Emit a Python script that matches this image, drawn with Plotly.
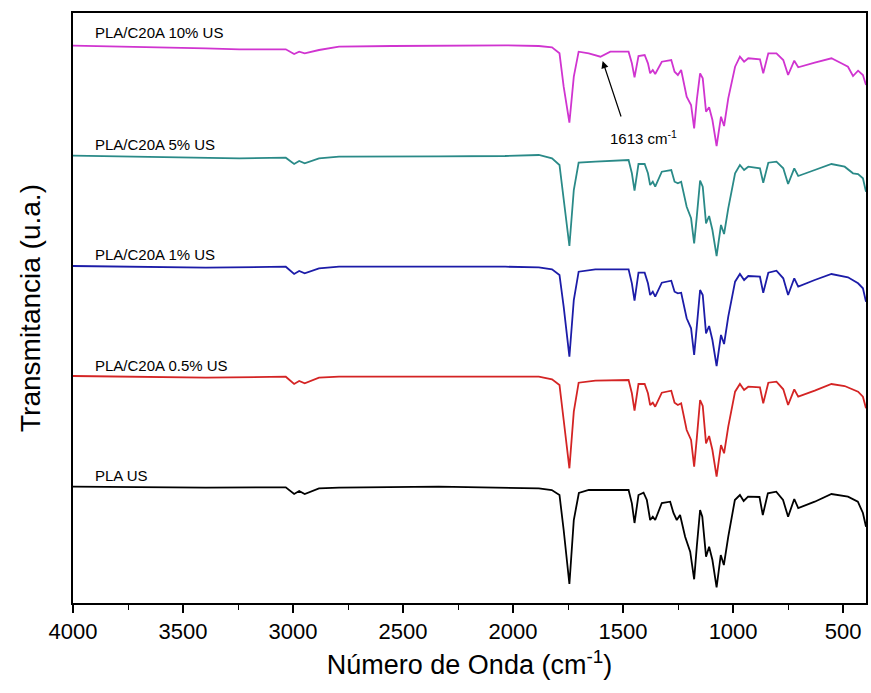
import plotly.graph_objects as go

# ---- data (wavenumber cm^-1, stacked transmittance a.u.) ----
wn_pla = [4000, 3698, 3396, 3033, 2995, 2972, 2947, 2882, 2791, 2338, 2036, 1883, 1824, 1789, 1770, 1744,
          1724, 1701, 1656, 1475, 1460, 1448, 1430, 1407, 1392, 1377, 1365, 1354, 1324, 1286, 1271, 1256,
          1241, 1218, 1195, 1177, 1165, 1150, 1140, 1123, 1109, 1094, 1075, 1056, 1042, 1022, 992, 969,
          952, 932, 880, 865, 842, 804, 773, 750, 722, 704, 629, 553, 478, 433, 410, 396]
t_pla = [116.3, 115.7, 115.3, 115.7, 109, 112, 109, 114.7, 115.3, 116.3, 115.7, 114.7, 113, 108, 73, 19,
         83, 110, 113, 113, 99.7, 80, 108, 110.3, 103, 83, 86.3, 83, 100, 101.3, 90, 83,
         88, 66.3, 51.3, 23.7, 56.3, 93, 86.3, 46.3, 56.3, 43, 15.7, 48, 38, 66.3, 103, 108,
         102, 106.3, 106, 88, 109.7, 111.3, 103, 86.3, 104, 95, 101.3, 109, 106.3, 101.3, 90, 76.3]

wn_05 = [4000, 3698, 3396, 3033, 2995, 2972, 2947, 2882, 2791, 2036, 1883, 1823, 1789, 1770, 1744, 1724,
         1702, 1626, 1475, 1460, 1448, 1430, 1402, 1387, 1377, 1365, 1354, 1324, 1281, 1266, 1251, 1236,
         1211, 1191, 1177, 1165, 1150, 1138, 1123, 1109, 1094, 1075, 1055, 1041, 1022, 991, 969, 950,
         931, 878, 863, 840, 803, 772, 750, 722, 704, 629, 553, 493, 432, 410, 396]
t_05 = [227, 226.3, 225.3, 226.3, 219, 222, 219.7, 225.3, 226.3, 226.3, 226.3, 223.7, 218, 183, 134.7, 191.3,
        220.3, 222.3, 223, 209.7, 192.3, 219, 219, 209.7, 198, 200.3, 196.3, 210.3, 212.3, 200.3, 198, 199.7,
        173, 163, 136.3, 164.7, 203, 197, 159.7, 167, 153, 126.3, 158, 149.7, 176.3, 211.3, 219, 213,
        216.3, 215.7, 199.7, 220.3, 221.3, 213.7, 198, 213.7, 206.3, 212.3, 219, 217, 211.3, 206.3, 194.7]

wn_1 = [4000, 3698, 3396, 3033, 2995, 2972, 2947, 2882, 2791, 2036, 1883, 1823, 1789, 1770, 1744, 1724,
        1702, 1626, 1475, 1460, 1448, 1430, 1402, 1387, 1377, 1365, 1354, 1324, 1281, 1266, 1251, 1236,
        1211, 1191, 1177, 1165, 1150, 1138, 1123, 1109, 1094, 1075, 1055, 1041, 1022, 991, 969, 950,
        931, 878, 863, 840, 803, 772, 750, 722, 704, 629, 553, 478, 432, 410, 396]
t_1 = [337, 336.3, 335.3, 336.3, 329, 332, 329.7, 334.7, 336.3, 336.3, 335.7, 333.7, 328, 296.3, 246.3, 303,
       331.3, 333.7, 333.7, 319.7, 302.3, 330.3, 330.3, 319.7, 308, 311.3, 306.3, 320.3, 322.3, 311.3, 309.7, 310.3,
       284.7, 274.7, 248, 276.3, 313, 308, 269.7, 277, 263, 237, 268, 259, 286.3, 321.3, 329, 323,
       327, 326.3, 310.3, 330.3, 332.3, 324.7, 308, 324.7, 316.3, 323, 329, 325.7, 319.7, 314.7, 301.3]

wn_5 = [4000, 3698, 3396, 3244, 3033, 2995, 2972, 2947, 2882, 2791, 2338, 2036, 1883, 1823, 1789, 1770,
        1744, 1724, 1702, 1626, 1475, 1460, 1448, 1430, 1402, 1387, 1377, 1365, 1354, 1324, 1281, 1266,
        1251, 1236, 1211, 1191, 1177, 1165, 1150, 1138, 1123, 1109, 1094, 1075, 1055, 1041, 1022, 991,
        969, 950, 931, 878, 863, 840, 803, 772, 750, 722, 704, 629, 553, 493, 455, 432, 410, 396]
t_5 = [447.3, 446.3, 444.7, 444.7, 445.3, 439, 442, 439.7, 444.7, 446.3, 446.7, 447, 448, 444.7, 438, 403,
       357, 413, 440.3, 441.3, 443, 429.7, 412.3, 439, 439, 429.7, 418, 421.3, 416.3, 431.3, 433, 421.3,
       419.7, 421.3, 396.3, 384.7, 359.7, 386.3, 422.3, 416.3, 379.7, 387, 373, 347, 378, 369, 394.7, 429.7,
       438, 433, 436.3, 434.7, 420.3, 440.3, 441.3, 434.7, 419, 434.7, 427, 433, 439, 436.3, 429.7, 429, 424.7, 411.3]

wn_10 = [4000, 3698, 3396, 3244, 3033, 2995, 2972, 2947, 2882, 2791, 2549, 2036, 1883, 1823, 1789, 1770,
         1744, 1724, 1702, 1656, 1603, 1558, 1475, 1460, 1448, 1430, 1402, 1387, 1377, 1365, 1354, 1324,
         1281, 1266, 1251, 1236, 1211, 1191, 1177, 1165, 1150, 1138, 1123, 1109, 1094, 1075, 1055, 1041,
         1022, 991, 969, 950, 931, 878, 863, 840, 803, 772, 750, 722, 704, 629, 553, 508, 478, 455, 432, 410, 396]
t_10 = [557.3, 556.3, 554.7, 553.7, 553.7, 549, 551.3, 549.7, 553, 556.3, 557, 557.7, 557, 555.7, 549.7, 516.3,
        480.3, 526.3, 551.3, 549.7, 546.3, 551.3, 551.3, 539.7, 525.7, 547, 548, 539.7, 529.7, 533, 529, 541.3,
        543, 531.3, 528, 533, 506.3, 498, 474.7, 503, 529.7, 524.7, 491.3, 495.7, 483, 457, 486.3, 477,
        504.7, 536.3, 546.3, 541.3, 544.7, 543.7, 529.7, 549.7, 549.7, 543, 528, 542.3, 535.7, 540.3, 544.7, 539.7, 536.3, 527, 532.3, 528, 518]

series_names = ["PLA US", "PLA/C20A 0.5% US", "PLA/C20A 1% US", "PLA/C20A 5% US", "PLA/C20A 10% US"]
series_x = [wn_pla, wn_05, wn_1, wn_5, wn_10]
series_y = [t_pla, t_05, t_1, t_5, t_10]
series_colors = ["#000000", "#D42424", "#1C1CA8", "#2A8A88", "#D034D0"]

label_x = [3909, 3909, 3909, 3909, 3909]
label_y = [128, 238, 349, 459, 571]

xticks = [4000, 3500, 3000, 2500, 2000, 1500, 1000, 500]

FONT = "Liberation Sans, Arial, sans-serif"

fig = go.Figure()
for xs, ys, c, n in zip(series_x, series_y, series_colors, series_names):
    fig.add_trace(go.Scatter(x=xs, y=ys, mode="lines", name=n,
                             line=dict(color=c, width=1.8),
                             showlegend=False, hoverinfo="skip"))

for n, lx, ly in zip(series_names, label_x, label_y):
    fig.add_annotation(x=lx, y=ly, xref="x", yref="y", text=n, showarrow=False,
                       xanchor="left", yanchor="middle",
                       font=dict(family=FONT, size=15, color="black"))

# arrow pointing at the 1613 cm-1 feature
fig.add_annotation(x=1593, y=542, xref="x", yref="y", ax=1507, ay=485, axref="x", ayref="y",
                   text="", showarrow=True, arrowhead=2, arrowsize=1.2, arrowwidth=1.2,
                   arrowcolor="black")
fig.add_annotation(x=1407, y=466, xref="x", yref="y", text="1613 cm<sup>-1</sup>",
                   showarrow=False, font=dict(family=FONT, size=15, color="black"))

fig.update_layout(
    width=871, height=693,
    margin=dict(l=73, r=3, t=13, b=90),
    paper_bgcolor="white", plot_bgcolor="white",
    font=dict(family=FONT, color="black"),
    xaxis=dict(range=[4000, 396], tickvals=xticks, ticks="outside", ticklen=8, tickwidth=1.5,
               tickcolor="black", showline=True, mirror=True, linecolor="black", linewidth=1.5,
               showgrid=False, zeroline=False, tickfont=dict(family=FONT, size=22),
               minor=dict(dtick=250, tick0=4000, ticks="outside", ticklen=5, tickwidth=1.2,
                          tickcolor="black", showgrid=False),
               title=dict(text="Número de Onda (cm<sup>-1</sup>)", font=dict(family=FONT, size=27),
                          standoff=12)),
    yaxis=dict(range=[0, 590], showticklabels=False, ticks="", showline=True, mirror=True,
               linecolor="black", linewidth=1.5, showgrid=False, zeroline=False,
               title=dict(text="Transmitancia (u.a.)", font=dict(family=FONT, size=28),
                          standoff=22)),
)

fig.write_html("out.html")
